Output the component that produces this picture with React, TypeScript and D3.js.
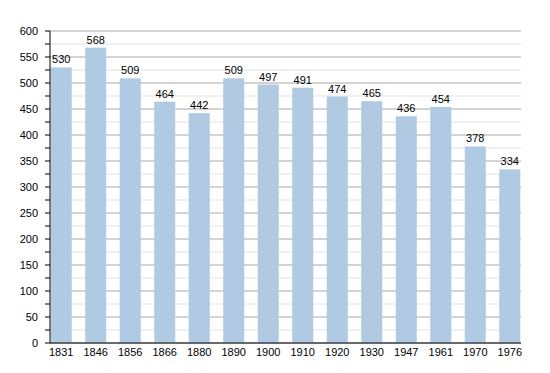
import React from "react";
import * as d3 from "d3";

const years = ["1831","1846","1856","1866","1880","1890","1900","1910","1920","1930","1947","1961","1970","1976"];
const population = [530,568,509,464,442,509,497,491,474,465,436,454,378,334];
const majorTicks = [0,50,100,150,200,250,300,350,400,450,500,550,600];
const minorTicks = [25,75,125,175,225,275,325,375,425,475,525,575];

export default function App() {
  const W = 550, H = 373;
  const left = 50, right = 521, top = 31, bottom = 343;
  const x = d3.scaleBand<string>().domain(years).range([left, right]).paddingInner(0.39).paddingOuter(0.02);
  const y = d3.scaleLinear().domain([0, 600]).range([bottom, top]);
  const font = "'Liberation Sans', Arial, sans-serif";
  return (
    <svg width={W} height={H} style={{ position: "absolute", left: 0, top: 0 }}>
      <rect x={0} y={0} width={W} height={H} fill="#fff" />
      {minorTicks.map(t => (
        <line key={"m"+t} x1={left} x2={right} y1={y(t)} y2={y(t)} stroke="#e2e2e2" strokeWidth={1} />
      ))}
      {majorTicks.map(t => (
        <line key={"g"+t} x1={left} x2={right} y1={y(t)} y2={y(t)} stroke="#a8a8a8" strokeWidth={1} />
      ))}
      {years.map((yr, i) => (
        <rect key={yr} x={x(yr)} y={y(population[i])} width={x.bandwidth()} height={bottom - y(population[i])} fill="#b0cae4" />
      ))}
      {years.map((yr, i) => (
        <text key={"v"+yr} x={(x(yr) as number) + x.bandwidth()/2} y={y(population[i]) - 4} textAnchor="middle" fontFamily={font} fontSize={11} fill="#000">{population[i]}</text>
      ))}
      <line x1={left} x2={left} y1={top} y2={bottom} stroke="#000" strokeWidth={1} />
      <line x1={left} x2={right} y1={bottom} y2={bottom} stroke="#000" strokeWidth={1} />
      {majorTicks.concat(minorTicks).map(t => (
        <line key={"t"+t} x1={left-5} x2={left} y1={y(t)} y2={y(t)} stroke="#000" strokeWidth={1} />
      ))}
      {majorTicks.map(t => (
        <text key={"l"+t} x={38} y={y(t)} dy="0.35em" textAnchor="end" fontFamily={font} fontSize={11} fill="#000">{t}</text>
      ))}
      {years.map(yr => (
        <text key={"x"+yr} x={(x(yr) as number) + x.bandwidth()/2} y={356} textAnchor="middle" fontFamily={font} fontSize={11} fill="#000">{yr}</text>
      ))}
    </svg>
  );
}
